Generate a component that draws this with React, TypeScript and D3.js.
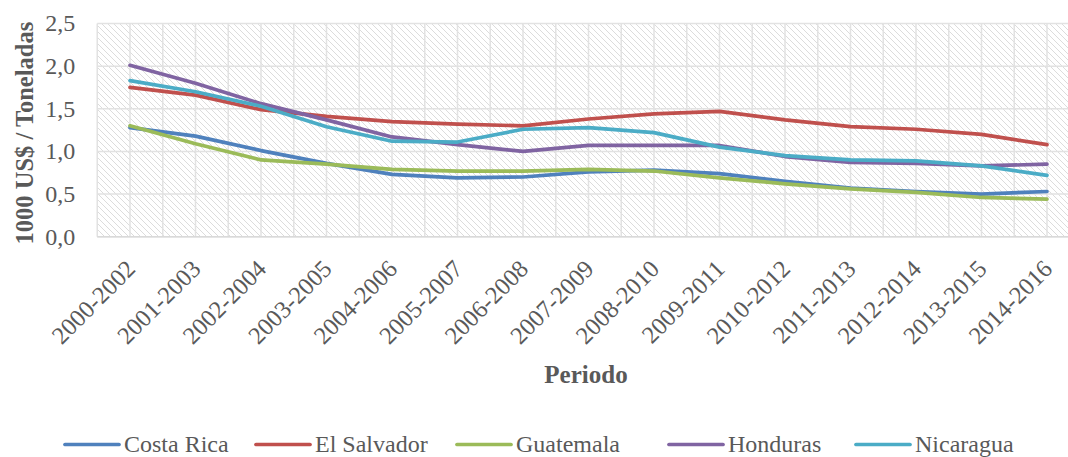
import React from "react";
import * as d3 from "d3";

const categories = [
  "2000-2002", "2001-2003", "2002-2004", "2003-2005", "2004-2006",
  "2005-2007", "2006-2008", "2007-2009", "2008-2010", "2009-2011",
  "2010-2012", "2011-2013", "2012-2014", "2013-2015", "2014-2016",
];
const costaRica = [1.28, 1.18, 1.01, 0.86, 0.73, 0.69, 0.70, 0.76, 0.78, 0.74, 0.65, 0.57, 0.53, 0.50, 0.53];
const elSalvador = [1.75, 1.66, 1.49, 1.41, 1.35, 1.32, 1.30, 1.38, 1.44, 1.47, 1.37, 1.29, 1.26, 1.20, 1.08];
const guatemala = [1.30, 1.09, 0.90, 0.85, 0.79, 0.77, 0.77, 0.79, 0.77, 0.69, 0.62, 0.56, 0.52, 0.46, 0.44];
const honduras = [2.01, 1.80, 1.56, 1.37, 1.17, 1.08, 1.00, 1.07, 1.07, 1.07, 0.94, 0.87, 0.86, 0.83, 0.85];
const nicaragua = [1.83, 1.70, 1.53, 1.29, 1.12, 1.11, 1.26, 1.28, 1.22, 1.05, 0.95, 0.90, 0.89, 0.83, 0.72];
const seriesNames = ["Costa Rica", "El Salvador", "Guatemala", "Honduras", "Nicaragua"];
const seriesColors = ["#4F81BD", "#C0504D", "#9BBB59", "#8064A2", "#4BACC6"];
const yTicks = [0, 0.5, 1.0, 1.5, 2.0, 2.5];

const W = 1068;
const H = 457;
const FONT = "'Liberation Serif', Cambria, serif";
const TEXT = "#595959";

export default function App() {
  const series = [costaRica, elSalvador, guatemala, honduras, nicaragua];
  const band = 65.5;
  const x0 = 130;
  const x = d3
    .scalePoint<string>()
    .domain(categories)
    .range([x0, x0 + band * (categories.length - 1)]);
  const plotLeft = x0 - band / 2;
  const plotRight = x0 + band * (categories.length - 1) + band / 2;
  const plotTop = 23.5;
  const plotBottom = 236.7;
  const y = d3.scaleLinear().domain([0, 2.5]).range([plotBottom, plotTop]);

  const line = d3
    .line<number>()
    .x((_, i) => x(categories[i]) as number)
    .y((d) => y(d));

  const vGrid: number[] = [];
  for (let k = 0; k <= categories.length * 2; k++) vGrid.push(plotLeft + (k * band) / 2);

  const legendX = [65, 256, 457, 669, 856];

  return (
    <svg width={W} height={H} style={{ display: "block", position: "absolute", left: 0, top: 0 }}>
      <defs>
        <pattern id="hatch" patternUnits="userSpaceOnUse" width="6" height="6">
          <rect width="6" height="6" fill="#ffffff" />
          <path d="M-1,-1 L7,7 M-1,5 L1,7 M5,-1 L7,1" stroke="#dcdcdc" strokeWidth="1" />
        </pattern>
        <clipPath id="clipAll">
          <rect x={0} y={0} width={W} height={H} />
        </clipPath>
      </defs>
      <rect x={0} y={0} width={W} height={H} fill="#ffffff" />
      <g clipPath="url(#clipAll)">
        <rect
          x={plotLeft}
          y={plotTop}
          width={plotRight - plotLeft}
          height={plotBottom - plotTop}
          fill="url(#hatch)"
        />
        {yTicks.map((t) => (
          <line key={"h" + t} x1={plotLeft} x2={plotRight} y1={y(t)} y2={y(t)} stroke="#e2e2e2" strokeWidth={1.5} />
        ))}
        {vGrid.map((gx, i) => (
          <line key={"v" + i} x1={gx} x2={gx} y1={plotTop} y2={plotBottom} stroke="#e2e2e2" strokeWidth={1.5} />
        ))}
        <line x1={plotLeft} x2={plotRight} y1={plotBottom} y2={plotBottom} stroke="#d9d9d9" strokeWidth={1.5} />
        {series.map((s, i) => (
          <path
            key={seriesNames[i]}
            d={line(s) || ""}
            fill="none"
            stroke={seriesColors[i]}
            strokeWidth={3.7}
            strokeLinejoin="round"
            strokeLinecap="round"
          />
        ))}
      </g>
      {yTicks.map((t) => (
        <text
          key={"yt" + t}
          x={plotLeft - 22}
          y={y(t)}
          dy="0.33em"
          textAnchor="end"
          fontFamily={FONT}
          fontSize={24}
          fill={TEXT}
        >
          {d3.format(".1f")(t).replace(".", ",")}
        </text>
      ))}
      <text
        transform={`translate(33, ${(plotTop + plotBottom) / 2 + 3}) rotate(-90)`}
        textAnchor="middle"
        fontFamily={FONT}
        fontSize={24.5}
        fontWeight="bold"
        fill={TEXT}
      >
        1000 US$ / Toneladas
      </text>
      {categories.map((c) => (
        <text
          key={c}
          transform={`translate(${(x(c) as number) + 1}, ${plotBottom + 28}) rotate(-45)`}
          textAnchor="end"
          dy="0.33em"
          fontFamily={FONT}
          fontSize={24.5}
          fill={TEXT}
        >
          {c}
        </text>
      ))}
      <text x={586} y={383} textAnchor="middle" fontFamily={FONT} fontSize={25} fontWeight="bold" fill={TEXT}>
        Periodo
      </text>
      {seriesNames.map((n, i) => (
        <g key={"lg" + n}>
          <line
            x1={legendX[i]}
            x2={legendX[i] + 54}
            y1={444.5}
            y2={444.5}
            stroke={seriesColors[i]}
            strokeWidth={3.7}
            strokeLinecap="round"
          />
          <text x={legendX[i] + 59} y={452.3} fontFamily={FONT} fontSize={24} fill={TEXT}>
            {n}
          </text>
        </g>
      ))}
    </svg>
  );
}
